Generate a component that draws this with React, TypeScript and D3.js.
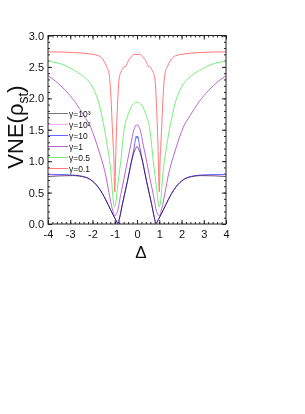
import { useEffect, useRef } from "react"
import * as d3 from "d3"

type Pt = [number, number]

// Delta values on the x axis, VNE on the y axis
const gamma1e3: Pt[] = [
  [-4, 0.755], [-3.5, 0.765], [-2.9, 0.77], [-2.3, 0.74], [-2.0, 0.68], [-1.71, 0.57],
  [-1.41, 0.39], [-1.19, 0.23], [-0.96, 0.07], [-0.85, 0.01], [-0.78, 0.1], [-0.66, 0.31],
  [-0.43, 0.68], [-0.3, 0.9], [-0.21, 1.05], [-0.06, 1.2], [0, 1.23], [0.06, 1.2],
  [0.21, 1.05], [0.3, 0.9], [0.43, 0.68], [0.66, 0.31], [0.78, 0.1], [0.85, 0.01],
  [0.96, 0.07], [1.19, 0.23], [1.41, 0.39], [1.71, 0.57], [2.0, 0.68], [2.3, 0.74],
  [2.9, 0.77], [3.5, 0.765], [4, 0.755],
]

const gamma1e2: Pt[] = [
  [-4, 0.76], [-3.5, 0.77], [-2.9, 0.772], [-2.3, 0.74], [-2.0, 0.68], [-1.71, 0.57],
  [-1.41, 0.39], [-1.19, 0.23], [-0.96, 0.07], [-0.85, 0.01], [-0.78, 0.1], [-0.66, 0.31],
  [-0.43, 0.68], [-0.3, 0.9], [-0.21, 1.05], [-0.06, 1.21], [0, 1.25], [0.06, 1.21],
  [0.21, 1.05], [0.3, 0.9], [0.43, 0.68], [0.66, 0.31], [0.78, 0.1], [0.85, 0.01],
  [0.96, 0.07], [1.19, 0.23], [1.41, 0.39], [1.71, 0.57], [2.0, 0.68], [2.3, 0.74],
  [2.9, 0.772], [3.5, 0.77], [4, 0.76],
]

const gamma10: Pt[] = [
  [-4, 0.79], [-3.5, 0.788], [-2.9, 0.78], [-2.3, 0.745], [-2.0, 0.685], [-1.71, 0.57],
  [-1.41, 0.39], [-1.19, 0.23], [-0.96, 0.07], [-0.85, 0.01], [-0.78, 0.1], [-0.66, 0.31],
  [-0.43, 0.68], [-0.3, 0.92], [-0.18, 1.12], [-0.1, 1.28], [-0.03, 1.4], [0, 1.36],
  [0.03, 1.4], [0.1, 1.28], [0.18, 1.12], [0.3, 0.92], [0.43, 0.68], [0.66, 0.31],
  [0.78, 0.1], [0.85, 0.01], [0.96, 0.07], [1.19, 0.23], [1.41, 0.39], [1.71, 0.57],
  [2.0, 0.685], [2.3, 0.745], [2.9, 0.78], [3.5, 0.788], [4, 0.79],
]

const gamma1: Pt[] = [
  [-4, 2.36], [-3.65, 2.27], [-3.2, 2.12], [-2.8, 1.95], [-2.38, 1.72], [-2.08, 1.54],
  [-1.93, 1.4], [-1.78, 1.24], [-1.63, 1.07], [-1.52, 0.94], [-1.41, 0.78], [-1.26, 0.5],
  [-1.11, 0.24], [-0.99, 0.13], [-0.88, 0.2], [-0.73, 0.47], [-0.58, 0.73], [-0.43, 1.0],
  [-0.28, 1.26], [-0.14, 1.5], [0, 1.58], [0.14, 1.5], [0.28, 1.26], [0.43, 1.0],
  [0.58, 0.73], [0.73, 0.47], [0.88, 0.2], [0.99, 0.13], [1.11, 0.24], [1.26, 0.5],
  [1.41, 0.78], [1.52, 0.94], [1.63, 1.07], [1.78, 1.24], [1.93, 1.4], [2.08, 1.54],
  [2.38, 1.72], [2.8, 1.95], [3.2, 2.12], [3.65, 2.27], [4, 2.36],
]

const gamma05: Pt[] = [
  [-4, 2.59], [-3.28, 2.53], [-2.94, 2.47], [-2.38, 2.34], [-2.2, 2.28], [-1.93, 2.13],
  [-1.71, 1.92], [-1.61, 1.77], [-1.51, 1.6], [-1.42, 1.43], [-1.33, 1.23], [-1.25, 1.05],
  [-1.18, 0.86], [-1.12, 0.6], [-1.06, 0.35], [-1.0, 0.27], [-0.94, 0.37], [-0.88, 0.57],
  [-0.73, 1.0], [-0.58, 1.5], [-0.43, 1.71], [-0.21, 1.89], [0, 1.94], [0.21, 1.89],
  [0.43, 1.71], [0.58, 1.5], [0.73, 1.0], [0.88, 0.57], [0.94, 0.37], [1.0, 0.27],
  [1.06, 0.35], [1.12, 0.6], [1.18, 0.86], [1.25, 1.05], [1.33, 1.23], [1.42, 1.43],
  [1.51, 1.6], [1.61, 1.77], [1.71, 1.92], [1.93, 2.13], [2.2, 2.28], [2.38, 2.34],
  [2.94, 2.47], [3.28, 2.53], [4, 2.59],
]

const gamma01: Pt[] = [
  [-4, 2.74], [-2.9, 2.73], [-2.2, 2.71], [-1.75, 2.68], [-1.48, 2.59], [-1.36, 2.5],
  [-1.26, 2.4], [-1.18, 2.08], [-1.11, 1.55], [-1.07, 1.25], [-1.03, 0.91], [-1.015, 0.62],
  [-1.0, 0.51], [-0.985, 0.62], [-0.96, 1.02], [-0.885, 1.81], [-0.81, 2.29], [-0.72, 2.42],
  [-0.66, 2.46], [-0.6, 2.5], [-0.5, 2.51], [-0.43, 2.57], [-0.35, 2.62], [-0.25, 2.66],
  [-0.15, 2.7], [0, 2.7], [0.15, 2.7], [0.25, 2.66], [0.35, 2.62], [0.43, 2.57],
  [0.5, 2.51], [0.6, 2.5], [0.66, 2.46], [0.72, 2.42], [0.81, 2.29], [0.885, 1.81],
  [0.96, 1.02], [0.985, 0.62], [1.0, 0.51], [1.015, 0.62], [1.03, 0.91], [1.07, 1.25],
  [1.11, 1.55], [1.18, 2.08], [1.26, 2.4], [1.36, 2.5], [1.48, 2.59], [1.75, 2.68],
  [2.2, 2.71], [2.9, 2.73], [4, 2.74],
]

const seriesLabels = ["10³", "10²", "10", "1", "0.5", "0.1"]
const seriesData = [gamma1e3, gamma1e2, gamma10, gamma1, gamma05, gamma01]
const seriesColors = ["#777777", "#ffaaff", "#6666ff", "#bb66cc", "#77ee77", "#ff7777"]

const xTicks = [-4, -3, -2, -1, 0, 1, 2, 3, 4]
const yTicks = [0, 0.5, 1, 1.5, 2, 2.5, 3]

const W = 305
const H = 414
const margin = { left: 48, right: 79, top: 35.5, bottom: 190 }

const App = () => {
  const svgRef = useRef<SVGSVGElement | null>(null)

  useEffect(() => {
    const svg = d3.select(svgRef.current)
    svg.selectAll("*").remove()

    const x = d3.scaleLinear().domain([-4, 4]).range([margin.left, W - margin.right])
    const y = d3.scaleLinear().domain([0, 3]).range([H - margin.bottom, margin.top])
    const [x0, x1] = x.range()
    const [y0, y1] = y.range()
    const font = "'Liberation Sans', Arial, sans-serif"

    // minor ticks on all four sides
    const xMinor = d3.range(-4, 4.001, 0.2)
    const yMinor = d3.range(0, 3.001, 0.1)
    const styleAxis = (g: any) => {
      g.select(".domain").remove()
      g.selectAll("line").attr("stroke", "#222")
      g.selectAll("text").attr("font-family", font).attr("fill", "#111")
    }
    svg.append("g").attr("transform", `translate(0,${y0})`)
      .call(d3.axisBottom(x).tickValues(xMinor).tickSize(-2).tickFormat(() => ""))
      .call(styleAxis)
    svg.append("g").attr("transform", `translate(0,${y1})`)
      .call(d3.axisTop(x).tickValues(xMinor).tickSize(-2).tickFormat(() => ""))
      .call(styleAxis)
    svg.append("g").attr("transform", `translate(${x0},0)`)
      .call(d3.axisLeft(y).tickValues(yMinor).tickSize(-2).tickFormat(() => ""))
      .call(styleAxis)
    svg.append("g").attr("transform", `translate(${x1},0)`)
      .call(d3.axisRight(y).tickValues(yMinor).tickSize(-2).tickFormat(() => ""))
      .call(styleAxis)

    // major ticks
    svg.append("g").attr("transform", `translate(0,${y0})`)
      .call(d3.axisBottom(x).tickValues(xTicks).tickSize(-4).tickPadding(6).tickFormat((d) => `${d}`.replace("−", "-")))
      .call(styleAxis)
      .selectAll("text").attr("font-size", 11)
    svg.append("g").attr("transform", `translate(0,${y1})`)
      .call(d3.axisTop(x).tickValues(xTicks).tickSize(-4).tickFormat(() => ""))
      .call(styleAxis)
    svg.append("g").attr("transform", `translate(${x0},0)`)
      .call(d3.axisLeft(y).tickValues(yTicks).tickSize(-4).tickPadding(4).tickFormat(d3.format(".1f")))
      .call(styleAxis)
      .selectAll("text").attr("font-size", 11)
    svg.append("g").attr("transform", `translate(${x1},0)`)
      .call(d3.axisRight(y).tickValues(yTicks).tickSize(-4).tickFormat(() => ""))
      .call(styleAxis)

    // curves
    const line = d3.line<Pt>()
      .x((d) => x(d[0]))
      .y((d) => y(d[1]))
      .curve(d3.curveMonotoneX)

    const plot = svg.append("g").style("isolation", "isolate")
    seriesData.forEach((data, i) => {
      plot.append("path")
        .datum(data)
        .attr("d", line)
        .attr("fill", "none")
        .attr("stroke", seriesColors[i])
        .attr("stroke-width", 1)
        .style("mix-blend-mode", "multiply")
    })

    // legend
    const legendY = d3.scaleLinear().domain([0, 5]).range([113.5, 168.5])
    seriesLabels.forEach((lab, i) => {
      const ly = legendY(i)
      svg.append("line")
        .attr("x1", x0).attr("x2", x0 + 20)
        .attr("y1", ly).attr("y2", ly)
        .attr("stroke", seriesColors[i])
        .attr("stroke-width", 1)
      svg.append("text")
        .attr("x", x0 + 21)
        .attr("y", ly + 3)
        .attr("font-family", font)
        .attr("font-size", 8.5)
        .attr("fill", "#111")
        .text(`γ=${lab}`)
    })

    // frame
    svg.append("rect")
      .attr("x", x0).attr("y", y1)
      .attr("width", x1 - x0).attr("height", y0 - y1)
      .attr("fill", "none")
      .attr("stroke", "#222")
      .attr("stroke-width", 1)

    // axis titles
    svg.append("text")
      .attr("x", 141)
      .attr("y", 258)
      .attr("text-anchor", "middle")
      .attr("font-family", font)
      .attr("font-size", 17)
      .attr("fill", "#111")
      .text("Δ")

    const yt = svg.append("text")
      .attr("transform", "translate(23,127) rotate(-90)")
      .attr("text-anchor", "middle")
      .attr("font-family", font)
      .attr("font-size", 22)
      .attr("fill", "#111")
    yt.append("tspan").text("VNE(ρ")
    yt.append("tspan").attr("font-size", 14).attr("dy", 5).text("st")
    yt.append("tspan").attr("dy", -5).text(")")
  }, [])

  return (
    <svg
      ref={svgRef}
      width={W}
      height={H}
      style={{ position: "absolute", left: 0, top: 0, background: "white" }}
    />
  )
}

export default App
